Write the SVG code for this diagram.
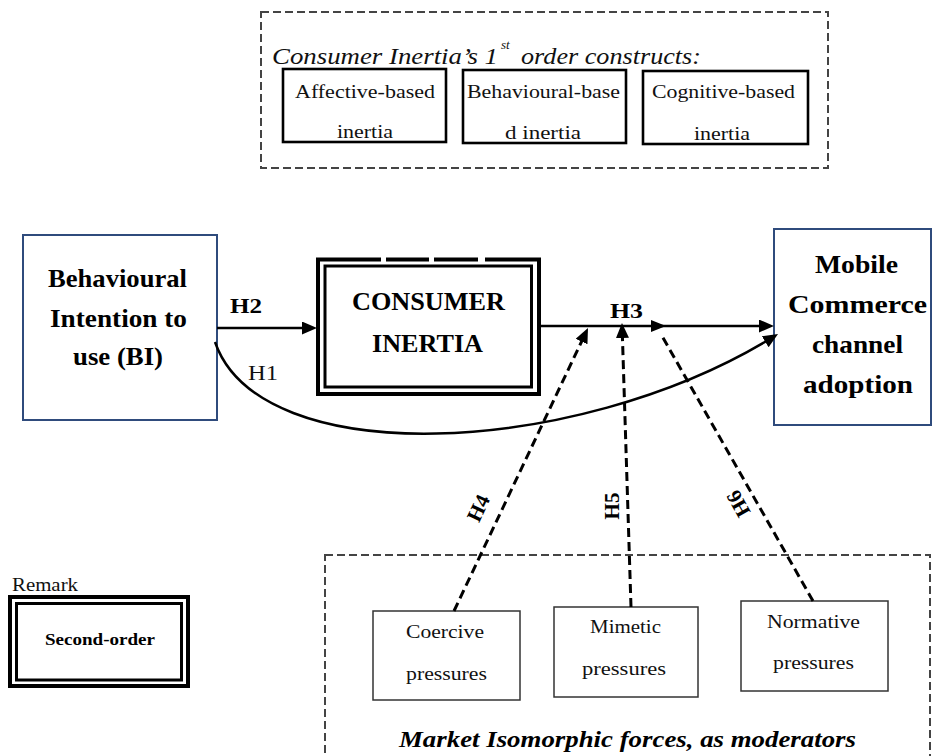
<svg xmlns="http://www.w3.org/2000/svg" width="933" height="756" viewBox="0 0 933 756">
  <style>
    text { font-family: "Liberation Serif", "DejaVu Serif", serif; }
    .reg { font-size: 19px; fill: #111; }
    .small { font-size: 18px; fill: #111; }
    .ital { font-style: italic; font-size: 23px; fill: #111; }
    .bold { font-weight: bold; font-size: 25px; fill: #000; }
    .hlab { font-weight: bold; font-size: 21px; fill: #000; }
    .dashbox { fill: none; stroke: #444; stroke-width: 2; stroke-dasharray: 8 4; }
    .construct { fill: #fff; stroke: #000; stroke-width: 2.6; }
    .pressure { fill: #fff; stroke: #333; stroke-width: 1.5; }
    .mainbox { fill: #fff; stroke: #2f4b7c; stroke-width: 2; }
    .dbl-out { fill: none; stroke: #000; stroke-width: 4; }
    .dbl-in { fill: none; stroke: #000; stroke-width: 3; }
    .solid { fill: none; stroke: #000; stroke-width: 2.5; }
    .dashed { fill: none; stroke: #000; stroke-width: 3; stroke-dasharray: 9 5; }
  </style>
  <defs>
    <marker id="arrow" markerUnits="userSpaceOnUse" markerWidth="16" markerHeight="14" refX="5" refY="6.5" orient="auto">
      <path d="M0,0 L15,6.5 L0,13 z" fill="#000" stroke="none"/>
    </marker>
  </defs>

  <rect width="933" height="756" fill="#fff"/>

  <!-- first-order constructs panel -->
  <g id="first-order-panel">
    <rect class="dashbox" x="261" y="12" width="567" height="156"/>
    <text class="ital" x="272" y="64" textLength="226" lengthAdjust="spacingAndGlyphs">Consumer Inertia’s 1</text>
    <text class="ital" x="501" y="49" style="font-size:13px">st</text>
    <text class="ital" x="521" y="64" textLength="180" lengthAdjust="spacingAndGlyphs">order constructs:</text>
  </g>
  <g id="affective">
    <rect class="construct" x="283" y="69" width="163" height="73"/>
    <text class="reg" x="295" y="98" textLength="140" lengthAdjust="spacingAndGlyphs">Affective-based</text>
    <text class="reg" x="337" y="138" textLength="56" lengthAdjust="spacingAndGlyphs">inertia</text>
  </g>
  <g id="behavioural">
    <rect class="construct" x="463" y="70" width="163" height="73"/>
    <text class="reg" x="467" y="98" textLength="153" lengthAdjust="spacingAndGlyphs">Behavioural-base</text>
    <text class="reg" x="505" y="139" textLength="76" lengthAdjust="spacingAndGlyphs">d inertia</text>
  </g>
  <g id="cognitive">
    <rect class="construct" x="643" y="71" width="165" height="73"/>
    <text class="reg" x="652" y="98" textLength="143" lengthAdjust="spacingAndGlyphs">Cognitive-based</text>
    <text class="reg" x="694" y="140" textLength="56" lengthAdjust="spacingAndGlyphs">inertia</text>
  </g>

  <!-- main constructs -->
  <g id="bi">
    <rect class="mainbox" x="23" y="235" width="194" height="185"/>
    <text class="bold" x="48" y="287" textLength="139" lengthAdjust="spacingAndGlyphs">Behavioural</text>
    <text class="bold" x="50" y="327" textLength="137" lengthAdjust="spacingAndGlyphs">Intention to</text>
    <text class="bold" x="73" y="365" textLength="90" lengthAdjust="spacingAndGlyphs">use (BI)</text>
  </g>
  <g id="consumer-inertia">
    <rect x="318" y="259.5" width="221" height="134.5" fill="#fff"/>
    <rect class="dbl-out" x="318" y="259.5" width="221" height="134.5"/>
    <rect class="dbl-in" x="325" y="266" width="206.5" height="121"/>
    <!-- breaks along the outer top edge -->
    <rect x="381" y="256" width="5" height="6" fill="#fff"/>
    <rect x="429" y="256" width="5" height="6" fill="#fff"/>
    <rect x="478" y="256" width="7" height="6" fill="#fff"/>
    <text class="bold" x="352" y="310" textLength="153" lengthAdjust="spacingAndGlyphs">CONSUMER</text>
    <text class="bold" x="372" y="352" textLength="111" lengthAdjust="spacingAndGlyphs">INERTIA</text>
  </g>
  <g id="mobile-commerce">
    <rect class="mainbox" x="774" y="229" width="157" height="196"/>
    <text class="bold" x="815" y="273" textLength="83" lengthAdjust="spacingAndGlyphs">Mobile</text>
    <text class="bold" x="788" y="313" textLength="139" lengthAdjust="spacingAndGlyphs">Commerce</text>
    <text class="bold" x="812" y="353" textLength="91" lengthAdjust="spacingAndGlyphs">channel</text>
    <text class="bold" x="803" y="393" textLength="110" lengthAdjust="spacingAndGlyphs">adoption</text>
  </g>

  <!-- moderators panel -->
  <g id="moderators-panel">
    <rect class="dashbox" x="325" y="555" width="605" height="220"/>
    <text class="bold" x="399" y="747" style="font-style:italic;font-size:24px" textLength="457" lengthAdjust="spacingAndGlyphs">Market Isomorphic forces, as moderators</text>
  </g>
  <g id="coercive">
    <rect class="pressure" x="373" y="611" width="147" height="89"/>
    <text class="small" x="406" y="638" textLength="78" lengthAdjust="spacingAndGlyphs">Coercive</text>
    <text class="small" x="406" y="680" textLength="81" lengthAdjust="spacingAndGlyphs">pressures</text>
  </g>
  <g id="mimetic">
    <rect class="pressure" x="554" y="607" width="144" height="90"/>
    <text class="small" x="590" y="633" textLength="71" lengthAdjust="spacingAndGlyphs">Mimetic</text>
    <text class="small" x="582" y="675" textLength="84" lengthAdjust="spacingAndGlyphs">pressures</text>
  </g>
  <g id="normative">
    <rect class="pressure" x="741" y="601" width="147" height="90"/>
    <text class="small" x="767" y="628" textLength="93" lengthAdjust="spacingAndGlyphs">Normative</text>
    <text class="small" x="773" y="669" textLength="81" lengthAdjust="spacingAndGlyphs">pressures</text>
  </g>

  <!-- legend -->
  <g id="remark">
    <text class="small" x="12" y="591" textLength="66" lengthAdjust="spacingAndGlyphs">Remark</text>
    <rect class="dbl-out" x="10" y="597" width="178" height="89"/>
    <rect class="dbl-in" x="16.5" y="603.5" width="165" height="76.5"/>
    <text class="bold" x="45" y="645" style="font-size:17px" textLength="110" lengthAdjust="spacingAndGlyphs">Second-order</text>
  </g>

  <!-- connectors -->
  <g id="connectors">
    <line class="solid" x1="217" y1="328" x2="307" y2="328" marker-end="url(#arrow)"/>
    <line class="solid" x1="541" y1="326" x2="764" y2="326" marker-end="url(#arrow)"/>
    <path class="solid" d="M215,342 C260,472 575,457 769.5,339.2" marker-end="url(#arrow)"/>
    <line class="dashed" x1="454" y1="611" x2="583.7" y2="337" marker-end="url(#arrow)"/>
    <line class="dashed" x1="631" y1="607" x2="622.3" y2="333" marker-end="url(#arrow)"/>
    <line class="dashed" x1="813" y1="601" x2="662" y2="336"/>
    <polygon points="651,320 666,326 651,332" fill="#000"/>

    <text class="hlab" x="230" y="313" textLength="32" lengthAdjust="spacingAndGlyphs">H2</text>
    <text class="small" x="248" y="380" style="font-size:21px" textLength="30" lengthAdjust="spacingAndGlyphs">H1</text>
    <text class="hlab" x="610" y="318" textLength="33" lengthAdjust="spacingAndGlyphs">H3</text>
    <text class="hlab" text-anchor="middle" dy="0.35em" transform="translate(478,508) rotate(-64.7)">H4</text>
    <text class="hlab" text-anchor="middle" dy="0.35em" transform="translate(612,506) rotate(-90)">H5</text>
    <text class="hlab" text-anchor="middle" dy="0.35em" transform="translate(738,504) rotate(-119.4)">H6</text>
  </g>
</svg>
